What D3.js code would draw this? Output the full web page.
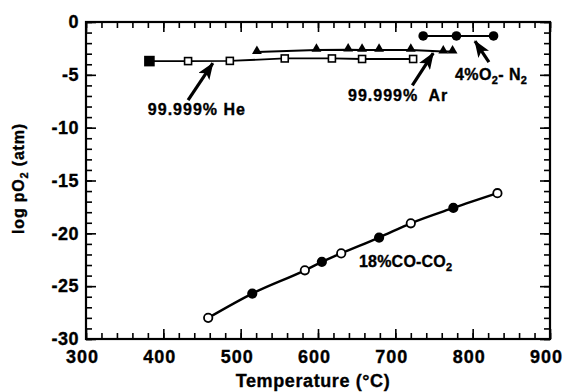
<!DOCTYPE html>
<html>
<head>
<meta charset="utf-8">
<script src="https://cdn.jsdelivr.net/npm/d3@7"></script>
<style>
  html, body { margin: 0; padding: 0; background: #fff; }
  svg { display: block; font-family: "Liberation Sans", Arial, Helvetica, sans-serif; font-weight: bold; }
  svg text { stroke: #000; stroke-width: 0.35px; }
</style>
</head>
<body>
<div id="chart"></div>
<script>
// axis ticks
const tempTicks = [300, 400, 500, 600, 700, 800, 900];
const logTicks = [0, -5, -10, -15, -20, -25, -30];

// 99.999% He (open squares, first one filled)
const heTemp = [382, 432, 486, 557, 618, 657, 723];
const heLog = [-3.7, -3.7, -3.68, -3.45, -3.45, -3.5, -3.5];

// 99.999% Ar (filled triangles)
const arTemp = [521, 598, 639, 657, 679, 720, 762, 774];
const arLog = [-2.85, -2.65, -2.62, -2.65, -2.65, -2.65, -2.8, -2.8];

// 4%O2-N2 (filled circles)
const o2Temp = [736, 779, 827];
const o2Log = [-1.32, -1.32, -1.32];

// 18%CO-CO2 (circles, alternating open / filled)
const coTemp = [458, 515, 583, 605, 630, 679, 720, 775, 832];
const coLog = [-28.0, -25.7, -23.5, -22.7, -21.9, -20.4, -19.05, -17.6, -16.2];
const coFilled = [false, true, false, true, false, true, false, true, false];

// annotation arrows, [tailT, tailLog, tipT, tipLog]
const arrows = [
  [432, -7.4, 464, -3.9],
  [722, -6.0, 749, -2.95],
  [821, -3.8, 803, -1.8]
];

const width = 566, height = 392;
const margin = { left: 86, right: 16, top: 22, bottom: 53 };

const svg = d3.select('#chart').append('svg')
  .attr('width', width)
  .attr('height', height);

svg.append('rect').attr('width', width).attr('height', height).attr('fill', '#fff');

const x = d3.scaleLinear().domain([300, 900]).range([margin.left, width - margin.right]);
const y = d3.scaleLinear().domain([-30, 0]).range([height - margin.bottom, margin.top]);

const minorT = d3.range(300, 901, 20);
const minorL = d3.range(-30, 0.1, 1);

// minor ticks on all four sides, pointing in
svg.append('g').attr('transform', `translate(0,${y(-30)})`)
  .call(d3.axisBottom(x).tickValues(minorT).tickSize(-6).tickFormat(''));
svg.append('g').attr('transform', `translate(0,${y(0)})`)
  .call(d3.axisTop(x).tickValues(minorT).tickSize(-6).tickFormat(''));
svg.append('g').attr('transform', `translate(${x(300)},0)`)
  .call(d3.axisLeft(y).tickValues(minorL).tickSize(-6).tickFormat(''));
svg.append('g').attr('transform', `translate(${x(900)},0)`)
  .call(d3.axisRight(y).tickValues(minorL).tickSize(-6).tickFormat(''));

// major ticks
const xAxis = svg.append('g').attr('transform', `translate(0,${y(-30)})`)
  .call(d3.axisBottom(x).tickValues(tempTicks).tickSize(-10).tickPadding(11));
svg.append('g').attr('transform', `translate(0,${y(0)})`)
  .call(d3.axisTop(x).tickValues(tempTicks).tickSize(-10).tickFormat(''));
const yAxis = svg.append('g').attr('transform', `translate(${x(300)},0)`)
  .call(d3.axisLeft(y).tickValues(logTicks).tickSize(-10).tickPadding(7));
svg.append('g').attr('transform', `translate(${x(900)},0)`)
  .call(d3.axisRight(y).tickValues(logTicks).tickSize(-10).tickFormat(''));

svg.selectAll('.domain').remove();
svg.selectAll('.tick line').attr('stroke', '#000').attr('stroke-width', 1.6);

xAxis.selectAll('text')
  .attr('font-size', 18).attr('font-family', null).attr('fill', '#000')
  .attr('letter-spacing', 1).attr('dx', -4);
yAxis.selectAll('text')
  .attr('font-size', 18).attr('font-family', null).attr('fill', '#000')
  .attr('letter-spacing', 0.5).text(d => d < 0 ? '-' + Math.abs(d) : d);

// frame
svg.append('rect')
  .attr('x', x(300)).attr('y', y(0))
  .attr('width', x(900) - x(300)).attr('height', y(-30) - y(0))
  .attr('fill', 'none').attr('stroke', '#000').attr('stroke-width', 2.2);

// axis titles
svg.append('text')
  .attr('x', (x(300) + x(900)) / 2 - 5).attr('y', 387)
  .attr('text-anchor', 'middle').attr('font-size', 18).attr('letter-spacing', 0.6)
  .text('Temperature (°C)');

const yTitle = svg.append('text')
  .attr('transform', `translate(24,${(y(0) + y(-30)) / 2 - 2}) rotate(-90)`)
  .attr('text-anchor', 'middle').attr('font-size', 16).attr('letter-spacing', 0.8);
yTitle.append('tspan').text('log pO');
yTitle.append('tspan').attr('font-size', 11).attr('dy', 4).text('2');
yTitle.append('tspan').attr('dy', -4).text(' (atm)');

const line = d3.line().x(d => x(d[0])).y(d => y(d[1]));
const zip = (a, b) => a.map((v, i) => [v, b[i]]);

const he = zip(heTemp, heLog);
const ar = zip(arTemp, arLog);
const o2 = zip(o2Temp, o2Log);
const co = zip(coTemp, coLog);

svg.append('path').datum(ar).attr('d', line)
  .attr('fill', 'none').attr('stroke', '#000').attr('stroke-width', 2);
svg.append('path').datum(he).attr('d', line)
  .attr('fill', 'none').attr('stroke', '#000').attr('stroke-width', 1.8);
svg.append('path').datum(o2).attr('d', line)
  .attr('fill', 'none').attr('stroke', '#000').attr('stroke-width', 2);
svg.append('path').datum(co).attr('d', line.curve(d3.curveMonotoneX))
  .attr('fill', 'none').attr('stroke', '#000').attr('stroke-width', 2.4);

// markers
svg.selectAll('rect.he').data(he).join('rect')
  .attr('class', 'he')
  .attr('x', (d, i) => x(d[0]) - (i === 0 ? 4.5 : 3.5))
  .attr('y', (d, i) => y(d[1]) - (i === 0 ? 4.5 : 3.5))
  .attr('width', (d, i) => i === 0 ? 9 : 7)
  .attr('height', (d, i) => i === 0 ? 9 : 7)
  .attr('fill', (d, i) => i === 0 ? '#000' : '#fff')
  .attr('stroke', '#000').attr('stroke-width', 1.6);

const tri = d3.symbol().type(d3.symbolTriangle).size(42);
svg.selectAll('path.ar').data(ar).join('path')
  .attr('class', 'ar')
  .attr('transform', d => `translate(${x(d[0])},${y(d[1]) - 1})`)
  .attr('d', tri).attr('fill', '#000');

svg.selectAll('circle.o2').data(o2).join('circle')
  .attr('class', 'o2')
  .attr('cx', d => x(d[0])).attr('cy', d => y(d[1])).attr('r', 4.8)
  .attr('fill', '#000');

svg.selectAll('circle.co').data(co).join('circle')
  .attr('class', 'co')
  .attr('cx', d => x(d[0])).attr('cy', d => y(d[1])).attr('r', 4.2)
  .attr('fill', (d, i) => coFilled[i] ? '#000' : '#fff')
  .attr('stroke', '#000').attr('stroke-width', 1.8);

// arrows
svg.append('defs').append('marker')
  .attr('id', 'head').attr('viewBox', '0 0 17 13')
  .attr('refX', 16).attr('refY', 6.5)
  .attr('markerWidth', 17).attr('markerHeight', 13)
  .attr('markerUnits', 'userSpaceOnUse').attr('orient', 'auto')
  .append('path').attr('d', 'M0,0 L17,6.5 L0,13 L4,6.5 Z').attr('fill', '#000');

svg.selectAll('line.arrow').data(arrows).join('line')
  .attr('class', 'arrow')
  .attr('x1', d => x(d[0])).attr('y1', d => y(d[1]))
  .attr('x2', d => x(d[2])).attr('y2', d => y(d[3]))
  .attr('stroke', '#000').attr('stroke-width', 3.2)
  .attr('marker-end', 'url(#head)');

// labels
svg.append('text').attr('x', x(380)).attr('y', 115)
  .attr('font-size', 16).attr('letter-spacing', 1)
  .text('99.999% He');

svg.append('text').attr('x', 348).attr('y', 101)
  .attr('font-size', 16).attr('letter-spacing', 1).attr('xml:space', 'preserve')
  .text('99.999%  Ar');

const o2Label = svg.append('text').attr('x', 455).attr('y', 80)
  .attr('font-size', 16).attr('letter-spacing', 0.4);
o2Label.append('tspan').text('4%O');
o2Label.append('tspan').attr('font-size', 11).attr('dy', 4).text('2');
o2Label.append('tspan').attr('dy', -4).text('- N');
o2Label.append('tspan').attr('font-size', 11).attr('dy', 4).text('2');

const coLabel = svg.append('text').attr('x', 359).attr('y', 267)
  .attr('font-size', 16).attr('letter-spacing', 0.2);
coLabel.append('tspan').text('18%CO-CO');
coLabel.append('tspan').attr('font-size', 11).attr('dy', 4).text('2');
</script>
</body>
</html>
